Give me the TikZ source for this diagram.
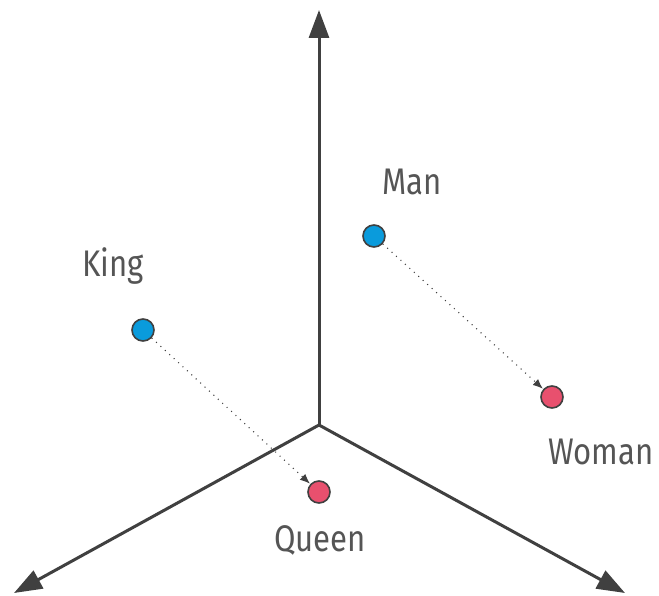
\documentclass[tikz,border=0pt]{standalone}
\usepackage{fontspec}
\setmainfont{Fira Sans}[FakeStretch=0.84]
\usetikzlibrary{arrows.meta}
\definecolor{axisgray}{HTML}{404040}
\definecolor{textgray}{HTML}{555555}
\definecolor{ptblue}{HTML}{0A9BDC}
\definecolor{ptred}{HTML}{E8506E}
\tikzset{
  axis/.style={line width=3pt, draw=axisgray, -{Triangle[length=28pt,width=20pt]}},
  pt/.style={circle, minimum size=22pt, inner sep=0pt, draw=axisgray, line width=1.6pt},
  bluept/.style={pt, fill=ptblue},
  redpt/.style={pt, fill=ptred},
  lbl/.style={font=\fontsize{37}{44}\selectfont, text=textgray, inner sep=0pt},
  moveline/.style={draw=axisgray, line width=1.1pt, dash pattern=on 1pt off 5pt, -{Latex[length=10pt,width=8pt]}, shorten >=0.5pt}
}
\begin{document}
\begin{tikzpicture}[x=1pt,y=-1pt]
\useasboundingbox (0,0) rectangle (659,596);
\fill[white] (0,0) rectangle (659,596);
\coordinate (o) at (319,425);
\coordinate (ytip) at (319,10);
\coordinate (ltip) at (14,593);
\coordinate (rtip) at (625,593);
\draw[axis] (o) -- (ytip);
\draw[axis] (o) -- (ltip);
\draw[axis] (o) -- (rtip);
\node[bluept] (man) at (374,236) {};
\node[bluept] (king) at (143,330) {};
\node[redpt] (woman) at (552,397) {};
\node[redpt] (queen) at (319,492) {};
\node[lbl] (manl) at (412,182) {Man};
\node[lbl] (kingl) at (113,266) {King};
\node[lbl] (womanl) at (601,452) {Woman};
\node[lbl] (queenl) at (320,540) {Queen};
\draw[moveline] (man) -- (woman);
\draw[moveline] (king) -- (queen);
\end{tikzpicture}
\end{document}
